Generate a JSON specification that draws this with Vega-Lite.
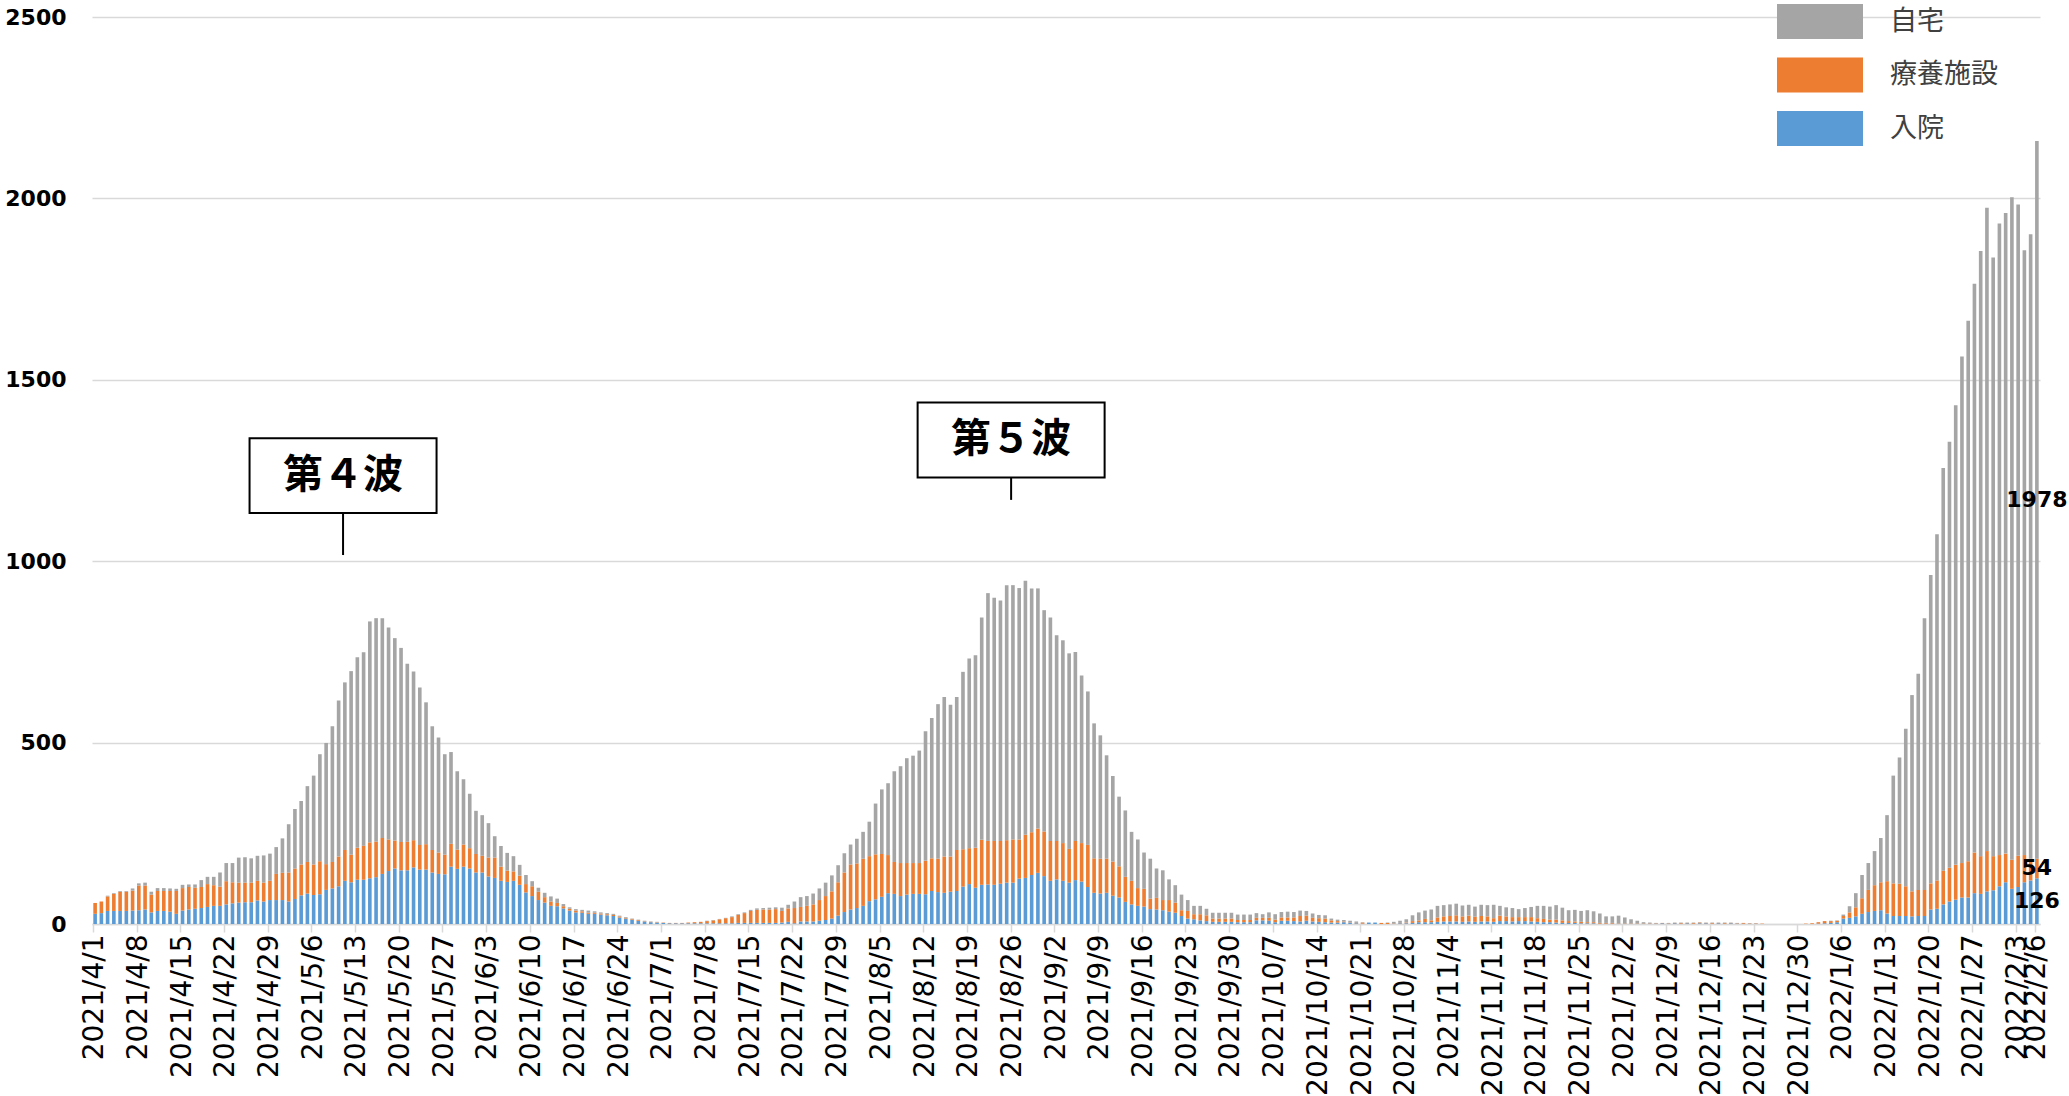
{
"$schema":"https://vega.github.io/schema/vega-lite/v6.json",
"width":1948,"height":907,
"autosize":{"type":"none"},
"padding":{"left":92,"top":17,"right":29,"bottom":172},
"background":"white",
"config":{"view":{"stroke":null},"font":"DejaVu Sans",
"axisX":{"bandPosition":0,"labelAngle":-90,"labelFont":"DejaVu Sans","labelFontSize":28,"labelColor":"#000000",
"tickColor":"#D9D9D9","tickSize":8,"tickWidth":1.5,"domainColor":"#D9D9D9","domainWidth":1.5,
"labelPadding":2,"labelOverlap":false,"labelBound":false,"grid":false,"title":null},
"axisY":{"domain":false,"ticks":false,"grid":true,"gridColor":"#D9D9D9","gridWidth":1.3,"format":"d",
"labelFont":"DejaVu Sans","labelFontWeight":"bold","labelFontSize":22,"labelColor":"#000000","labelPadding":26,"title":null}
},
"datasets":{
"main":[
{"d":"2021/4/1","入院":28,"療養施設":30,"自宅":0},
{"d":"2021/4/2","入院":30,"療養施設":32,"自宅":0},
{"d":"2021/4/3","入院":36,"療養施設":40,"自宅":2},
{"d":"2021/4/4","入院":36,"療養施設":47,"自宅":2},
{"d":"2021/4/5","入院":36,"療養施設":53,"自宅":2},
{"d":"2021/4/6","入院":36,"療養施設":53,"自宅":2},
{"d":"2021/4/7","入院":37,"療養施設":55,"自宅":6},
{"d":"2021/4/8","入院":38,"療養施設":68,"自宅":6},
{"d":"2021/4/9","入院":40,"療養施設":66,"自宅":8},
{"d":"2021/4/10","入院":32,"療養施設":49,"自宅":8},
{"d":"2021/4/11","入院":36,"療養施設":55,"自宅":8},
{"d":"2021/4/12","入院":36,"療養施設":55,"自宅":8},
{"d":"2021/4/13","入院":34,"療養施設":57,"自宅":7},
{"d":"2021/4/14","入院":28,"療養施設":63,"自宅":6},
{"d":"2021/4/15","入院":37,"療養施設":62,"自宅":9},
{"d":"2021/4/16","入院":40,"療養施設":62,"自宅":7},
{"d":"2021/4/17","入院":42,"療養施設":58,"自宅":9},
{"d":"2021/4/18","入院":44,"療養施設":58,"自宅":19},
{"d":"2021/4/19","入院":47,"療養施設":63,"自宅":20},
{"d":"2021/4/20","入院":50,"療養施設":57,"自宅":23},
{"d":"2021/4/21","入院":50,"療養施設":53,"自宅":39},
{"d":"2021/4/22","入院":54,"療養施設":64,"自宅":50},
{"d":"2021/4/23","入院":57,"療養施設":58,"自宅":53},
{"d":"2021/4/24","入院":59,"療養施設":55,"自宅":69},
{"d":"2021/4/25","入院":60,"療養施設":54,"自宅":70},
{"d":"2021/4/26","入院":60,"療養施設":54,"自宅":67},
{"d":"2021/4/27","入院":65,"療養施設":54,"自宅":69},
{"d":"2021/4/28","入院":62,"療養施設":52,"自宅":75},
{"d":"2021/4/29","入院":66,"療養施設":53,"自宅":75},
{"d":"2021/4/30","入院":66,"療養施設":72,"自宅":74},
{"d":"2021/5/1","入院":66,"療養施設":75,"自宅":95},
{"d":"2021/5/2","入院":62,"療養施設":80,"自宅":133},
{"d":"2021/5/3","入院":69,"療養施設":84,"自宅":164},
{"d":"2021/5/4","入院":79,"療養施設":85,"自宅":175},
{"d":"2021/5/5","入院":84,"療養施設":87,"自宅":209},
{"d":"2021/5/6","入院":80,"療養施設":84,"自宅":245},
{"d":"2021/5/7","入院":82,"療養施設":91,"自宅":295},
{"d":"2021/5/8","入院":94,"療養施設":71,"自宅":334},
{"d":"2021/5/9","入院":98,"療養施設":73,"自宅":374},
{"d":"2021/5/10","入院":104,"療養施設":82,"自宅":430},
{"d":"2021/5/11","入院":119,"療養施設":85,"自宅":462},
{"d":"2021/5/12","入院":115,"療養施設":76,"自宅":506},
{"d":"2021/5/13","入院":122,"療養施設":88,"自宅":525},
{"d":"2021/5/14","入院":122,"療養施設":94,"自宅":533},
{"d":"2021/5/15","入院":126,"療養施設":99,"自宅":609},
{"d":"2021/5/16","入院":129,"療養施設":98,"自宅":616},
{"d":"2021/5/17","入院":138,"療養施設":99,"自宅":606},
{"d":"2021/5/18","入院":146,"療養施設":87,"自宅":584},
{"d":"2021/5/19","入院":153,"療養施設":77,"自宅":558},
{"d":"2021/5/20","入院":148,"療養施設":78,"自宅":535},
{"d":"2021/5/21","入院":148,"療養施設":79,"自宅":490},
{"d":"2021/5/22","入院":156,"療養施設":75,"自宅":465},
{"d":"2021/5/23","入院":150,"療養施設":68,"自宅":434},
{"d":"2021/5/24","入院":150,"療養施設":70,"自宅":391},
{"d":"2021/5/25","入院":142,"療養施設":62,"自宅":341},
{"d":"2021/5/26","入院":138,"療養施設":59,"自宅":317},
{"d":"2021/5/27","入院":137,"療養施設":54,"自宅":277},
{"d":"2021/5/28","入院":158,"療養施設":63,"自宅":253},
{"d":"2021/5/29","入院":152,"療養施設":53,"自宅":216},
{"d":"2021/5/30","入院":158,"療養施設":61,"自宅":180},
{"d":"2021/5/31","入院":153,"療養施設":56,"自宅":150},
{"d":"2021/6/1","入院":142,"療養施設":51,"自宅":119},
{"d":"2021/6/2","入院":142,"療養施設":46,"自宅":112},
{"d":"2021/6/3","入院":131,"療養施設":52,"自宅":95},
{"d":"2021/6/4","入院":127,"療養施設":56,"自宅":59},
{"d":"2021/6/5","入院":119,"療養施設":39,"自宅":57},
{"d":"2021/6/6","入院":116,"療養施設":31,"自宅":49},
{"d":"2021/6/7","入院":119,"療養施設":26,"自宅":42},
{"d":"2021/6/8","入院":108,"療養施設":25,"自宅":30},
{"d":"2021/6/9","入院":87,"療養施設":23,"自宅":25},
{"d":"2021/6/10","入院":77,"療養施設":27,"自宅":14},
{"d":"2021/6/11","入院":66,"療養施設":23,"自宅":11},
{"d":"2021/6/12","入院":59,"療養施設":15,"自宅":12},
{"d":"2021/6/13","入院":50,"療養施設":12,"自宅":14},
{"d":"2021/6/14","入院":49,"療養施設":9,"自宅":12},
{"d":"2021/6/15","入院":43,"療養施設":6,"自宅":6},
{"d":"2021/6/16","入院":37,"療養施設":5,"自宅":4},
{"d":"2021/6/17","入院":32,"療養施設":5,"自宅":4},
{"d":"2021/6/18","入院":31,"療養施設":4,"自宅":4},
{"d":"2021/6/19","入院":28,"療養施設":3,"自宅":6},
{"d":"2021/6/20","入院":28,"療養施設":3,"自宅":4},
{"d":"2021/6/21","入院":26,"療養施設":3,"自宅":3},
{"d":"2021/6/22","入院":24,"療養施設":3,"自宅":3},
{"d":"2021/6/23","入院":22,"療養施設":3,"自宅":3},
{"d":"2021/6/24","入院":18,"療養施設":3,"自宅":2},
{"d":"2021/6/25","入院":15,"療養施設":2,"自宅":2},
{"d":"2021/6/26","入院":12,"療養施設":2,"自宅":1},
{"d":"2021/6/27","入院":9,"療養施設":2,"自宅":1},
{"d":"2021/6/28","入院":7,"療養施設":1,"自宅":1},
{"d":"2021/6/29","入院":5,"療養施設":1,"自宅":1},
{"d":"2021/6/30","入院":4,"療養施設":1,"自宅":1},
{"d":"2021/7/1","入院":3,"療養施設":1,"自宅":0},
{"d":"2021/7/2","入院":2,"療養施設":1,"自宅":0},
{"d":"2021/7/3","入院":2,"療養施設":1,"自宅":0},
{"d":"2021/7/4","入院":2,"療養施設":1,"自宅":0},
{"d":"2021/7/5","入院":2,"療養施設":2,"自宅":0},
{"d":"2021/7/6","入院":2,"療養施設":3,"自宅":0},
{"d":"2021/7/7","入院":2,"療養施設":4,"自宅":0},
{"d":"2021/7/8","入院":2,"療養施設":6,"自宅":1},
{"d":"2021/7/9","入院":2,"療養施設":8,"自宅":1},
{"d":"2021/7/10","入院":2,"療養施設":11,"自宅":1},
{"d":"2021/7/11","入院":2,"療養施設":14,"自宅":1},
{"d":"2021/7/12","入院":2,"療養施設":17,"自宅":2},
{"d":"2021/7/13","入院":3,"療養施設":22,"自宅":2},
{"d":"2021/7/14","入院":3,"療養施設":27,"自宅":2},
{"d":"2021/7/15","入院":3,"療養施設":33,"自宅":3},
{"d":"2021/7/16","入院":3,"療養施設":36,"自宅":4},
{"d":"2021/7/17","入院":3,"療養施設":37,"自宅":4},
{"d":"2021/7/18","入院":3,"療養施設":37,"自宅":5},
{"d":"2021/7/19","入院":3,"療養施設":38,"自宅":5},
{"d":"2021/7/20","入院":4,"療養施設":32,"自宅":9},
{"d":"2021/7/21","入院":6,"療養施設":37,"自宅":10},
{"d":"2021/7/22","入院":2,"療養施設":42,"自宅":18},
{"d":"2021/7/23","入院":7,"療養施設":40,"自宅":27},
{"d":"2021/7/24","入院":7,"療養施設":43,"自宅":27},
{"d":"2021/7/25","入院":7,"療養施設":47,"自宅":30},
{"d":"2021/7/26","入院":9,"療養施設":57,"自宅":32},
{"d":"2021/7/27","入院":11,"療養施設":66,"自宅":37},
{"d":"2021/7/28","入院":15,"療養施設":75,"自宅":44},
{"d":"2021/7/29","入院":23,"療養施設":92,"自宅":47},
{"d":"2021/7/30","入院":33,"療養施設":109,"自宅":53},
{"d":"2021/7/31","入院":40,"療養施設":124,"自宅":55},
{"d":"2021/8/1","入院":44,"療養施設":123,"自宅":68},
{"d":"2021/8/2","入院":50,"療養施設":130,"自宅":74},
{"d":"2021/8/3","入院":63,"療養施設":124,"自宅":95},
{"d":"2021/8/4","入院":68,"療養施設":124,"自宅":140},
{"d":"2021/8/5","入院":75,"療養施設":118,"自宅":178},
{"d":"2021/8/6","入院":85,"療養施設":105,"自宅":198},
{"d":"2021/8/7","入院":83,"療養施設":88,"自宅":250},
{"d":"2021/8/8","入院":77,"療養施設":91,"自宅":267},
{"d":"2021/8/9","入院":81,"療養施設":87,"自宅":289},
{"d":"2021/8/10","入院":83,"療養施設":85,"自宅":296},
{"d":"2021/8/11","入院":83,"療養施設":85,"自宅":310},
{"d":"2021/8/12","入院":82,"療養施設":92,"自宅":357},
{"d":"2021/8/13","入院":91,"療養施設":90,"自宅":387},
{"d":"2021/8/14","入院":88,"療養施設":92,"自宅":426},
{"d":"2021/8/15","入院":86,"療養施設":100,"自宅":440},
{"d":"2021/8/16","入院":89,"療養施設":97,"自宅":418},
{"d":"2021/8/17","入院":91,"療養施設":113,"自宅":422},
{"d":"2021/8/18","入院":103,"療養施設":103,"自宅":489},
{"d":"2021/8/19","入院":110,"療養施設":99,"自宅":523},
{"d":"2021/8/20","入院":100,"療養施設":110,"自宅":531},
{"d":"2021/8/21","入院":108,"療養施設":124,"自宅":613},
{"d":"2021/8/22","入院":109,"療養施設":120,"自宅":683},
{"d":"2021/8/23","入院":108,"療養施設":121,"自宅":670},
{"d":"2021/8/24","入院":111,"療養施設":118,"自宅":663},
{"d":"2021/8/25","入院":114,"療養施設":117,"自宅":703},
{"d":"2021/8/26","入院":114,"療養施設":119,"自宅":701},
{"d":"2021/8/27","入院":125,"療養施設":108,"自宅":693},
{"d":"2021/8/28","入院":127,"療養施設":119,"自宅":700},
{"d":"2021/8/29","入院":135,"療養施設":118,"自宅":672},
{"d":"2021/8/30","入院":141,"療養施設":122,"自宅":662},
{"d":"2021/8/31","入院":132,"療養施設":123,"自宅":610},
{"d":"2021/9/1","入院":119,"療養施設":110,"自宅":616},
{"d":"2021/9/2","入院":123,"療養施設":106,"自宅":567},
{"d":"2021/9/3","入院":119,"療養施設":104,"自宅":559},
{"d":"2021/9/4","入院":114,"療養施設":93,"自宅":539},
{"d":"2021/9/5","入院":121,"療養施設":108,"自宅":521},
{"d":"2021/9/6","入院":117,"療養施設":106,"自宅":462},
{"d":"2021/9/7","入院":102,"療養施設":116,"自宅":423},
{"d":"2021/9/8","入院":86,"療養施設":95,"自宅":372},
{"d":"2021/9/9","入院":84,"療養施設":96,"自宅":340},
{"d":"2021/9/10","入院":86,"療養施設":94,"自宅":285},
{"d":"2021/9/11","入院":78,"療養施設":94,"自宅":236},
{"d":"2021/9/12","入院":73,"療養施設":86,"自宅":192},
{"d":"2021/9/13","入院":61,"療養施設":69,"自宅":183},
{"d":"2021/9/14","入院":54,"療養施設":65,"自宅":135},
{"d":"2021/9/15","入院":50,"療養施設":49,"自宅":134},
{"d":"2021/9/16","入院":48,"療養施設":49,"自宅":100},
{"d":"2021/9/17","入院":41,"療養施設":29,"自宅":110},
{"d":"2021/9/18","入院":40,"療養施設":32,"自宅":81},
{"d":"2021/9/19","入院":38,"療養施設":28,"自宅":82},
{"d":"2021/9/20","入院":34,"療養施設":32,"自宅":57},
{"d":"2021/9/21","入院":31,"療養施設":28,"自宅":48},
{"d":"2021/9/22","入院":22,"療養施設":16,"自宅":43},
{"d":"2021/9/23","入院":15,"療養施設":21,"自宅":30},
{"d":"2021/9/24","入院":13,"療養施設":14,"自宅":23},
{"d":"2021/9/25","入院":10,"療養施設":17,"自宅":23},
{"d":"2021/9/26","入院":8,"療養施設":16,"自宅":18},
{"d":"2021/9/27","入院":6,"療養施設":9,"自宅":16},
{"d":"2021/9/28","入院":6,"療養施設":9,"自宅":16},
{"d":"2021/9/29","入院":6,"療養施設":9,"自宅":16},
{"d":"2021/9/30","入院":6,"療養施設":9,"自宅":16},
{"d":"2021/10/1","入院":5,"療養施設":6,"自宅":15},
{"d":"2021/10/2","入院":5,"療養施設":6,"自宅":15},
{"d":"2021/10/3","入院":5,"療養施設":6,"自宅":15},
{"d":"2021/10/4","入院":10,"療養施設":7,"自宅":13},
{"d":"2021/10/5","入院":10,"療養施設":7,"自宅":10},
{"d":"2021/10/6","入院":9,"療養施設":8,"自宅":15},
{"d":"2021/10/7","入院":5,"療養施設":7,"自宅":15},
{"d":"2021/10/8","入院":9,"療養施設":9,"自宅":15},
{"d":"2021/10/9","入院":9,"療養施設":9,"自宅":16},
{"d":"2021/10/10","入院":8,"療養施設":10,"自宅":15},
{"d":"2021/10/11","入院":7,"療養施設":15,"自宅":15},
{"d":"2021/10/12","入院":9,"療養施設":14,"自宅":13},
{"d":"2021/10/13","入院":7,"療養施設":10,"自宅":12},
{"d":"2021/10/14","入院":6,"療養施設":10,"自宅":9},
{"d":"2021/10/15","入院":5,"療養施設":10,"自宅":9},
{"d":"2021/10/16","入院":4,"療養施設":6,"自宅":5},
{"d":"2021/10/17","入院":4,"療養施設":4,"自宅":4},
{"d":"2021/10/18","入院":5,"療養施設":2,"自宅":4},
{"d":"2021/10/19","入院":4,"療養施設":1,"自宅":4},
{"d":"2021/10/20","入院":2,"療養施設":1,"自宅":4},
{"d":"2021/10/21","入院":1,"療養施設":3,"自宅":1},
{"d":"2021/10/22","入院":4,"療養施設":0,"自宅":0},
{"d":"2021/10/23","入院":4,"療養施設":0,"自宅":0},
{"d":"2021/10/24","入院":0,"療養施設":3,"自宅":0},
{"d":"2021/10/25","入院":0,"療養施設":3,"自宅":1},
{"d":"2021/10/26","入院":1,"療養施設":1,"自宅":4},
{"d":"2021/10/27","入院":2,"療養施設":1,"自宅":6},
{"d":"2021/10/28","入院":2,"療養施設":2,"自宅":9},
{"d":"2021/10/29","入院":3,"療養施設":5,"自宅":16},
{"d":"2021/10/30","入院":5,"療養施設":5,"自宅":22},
{"d":"2021/10/31","入院":5,"療養施設":9,"自宅":23},
{"d":"2021/11/1","入院":5,"療養施設":5,"自宅":30},
{"d":"2021/11/2","入院":6,"療養施設":12,"自宅":32},
{"d":"2021/11/3","入院":7,"療養施設":14,"自宅":31},
{"d":"2021/11/4","入院":7,"療養施設":15,"自宅":32},
{"d":"2021/11/5","入院":7,"療養施設":17,"自宅":32},
{"d":"2021/11/6","入院":6,"療養施設":15,"自宅":30},
{"d":"2021/11/7","入院":7,"療養施設":16,"自宅":30},
{"d":"2021/11/8","入院":6,"療養施設":14,"自宅":28},
{"d":"2021/11/9","入院":7,"療養施設":15,"自宅":31},
{"d":"2021/11/10","入院":7,"療養施設":14,"自宅":31},
{"d":"2021/11/11","入院":6,"療養施設":10,"自宅":37},
{"d":"2021/11/12","入院":8,"療養施設":15,"自宅":27},
{"d":"2021/11/13","入院":8,"療養施設":13,"自宅":25},
{"d":"2021/11/14","入院":7,"療養施設":12,"自宅":25},
{"d":"2021/11/15","入院":8,"療養施設":11,"自宅":22},
{"d":"2021/11/16","入院":8,"療養施設":11,"自宅":25},
{"d":"2021/11/17","入院":7,"療養施設":12,"自宅":28},
{"d":"2021/11/18","入院":6,"療養施設":10,"自宅":34},
{"d":"2021/11/19","入院":5,"療養施設":9,"自宅":36},
{"d":"2021/11/20","入院":5,"療養施設":7,"自宅":36},
{"d":"2021/11/21","入院":4,"療養施設":8,"自宅":40},
{"d":"2021/11/22","入院":3,"療養施設":7,"自宅":35},
{"d":"2021/11/23","入院":3,"療養施設":5,"自宅":30},
{"d":"2021/11/24","入院":3,"療養施設":4,"自宅":32},
{"d":"2021/11/25","入院":2,"療養施設":4,"自宅":30},
{"d":"2021/11/26","入院":2,"療養施設":3,"自宅":33},
{"d":"2021/11/27","入院":2,"療養施設":3,"自宅":30},
{"d":"2021/11/28","入院":1,"療養施設":2,"自宅":26},
{"d":"2021/11/29","入院":1,"療養施設":2,"自宅":18},
{"d":"2021/11/30","入院":1,"療養施設":2,"自宅":18},
{"d":"2021/12/1","入院":1,"療養施設":1,"自宅":21},
{"d":"2021/12/2","入院":1,"療養施設":1,"自宅":16},
{"d":"2021/12/3","入院":1,"療養施設":1,"自宅":11},
{"d":"2021/12/4","入院":1,"療養施設":1,"自宅":7},
{"d":"2021/12/5","入院":1,"療養施設":1,"自宅":3},
{"d":"2021/12/6","入院":1,"療養施設":1,"自宅":2},
{"d":"2021/12/7","入院":1,"療養施設":1,"自宅":1},
{"d":"2021/12/8","入院":2,"療養施設":1,"自宅":0},
{"d":"2021/12/9","入院":1,"療養施設":1,"自宅":1},
{"d":"2021/12/10","入院":2,"療養施設":1,"自宅":1},
{"d":"2021/12/11","入院":1,"療養施設":2,"自宅":1},
{"d":"2021/12/12","入院":2,"療養施設":1,"自宅":1},
{"d":"2021/12/13","入院":1,"療養施設":2,"自宅":1},
{"d":"2021/12/14","入院":2,"療養施設":2,"自宅":1},
{"d":"2021/12/15","入院":2,"療養施設":1,"自宅":1},
{"d":"2021/12/16","入院":1,"療養施設":2,"自宅":1},
{"d":"2021/12/17","入院":2,"療養施設":1,"自宅":1},
{"d":"2021/12/18","入院":1,"療養施設":2,"自宅":1},
{"d":"2021/12/19","入院":2,"療養施設":1,"自宅":1},
{"d":"2021/12/20","入院":1,"療養施設":1,"自宅":1},
{"d":"2021/12/21","入院":1,"療養施設":2,"自宅":0},
{"d":"2021/12/22","入院":1,"療養施設":1,"自宅":0},
{"d":"2021/12/23","入院":1,"療養施設":1,"自宅":0},
{"d":"2021/12/24","入院":0,"療養施設":1,"自宅":0},
{"d":"2021/12/25","入院":0,"療養施設":0,"自宅":0},
{"d":"2021/12/26","入院":0,"療養施設":0,"自宅":0},
{"d":"2021/12/27","入院":0,"療養施設":0,"自宅":0},
{"d":"2021/12/28","入院":0,"療養施設":0,"自宅":0},
{"d":"2021/12/29","入院":0,"療養施設":0,"自宅":0},
{"d":"2021/12/30","入院":0,"療養施設":0,"自宅":0},
{"d":"2021/12/31","入院":0,"療養施設":1,"自宅":0},
{"d":"2022/1/1","入院":0,"療養施設":2,"自宅":0},
{"d":"2022/1/2","入院":1,"療養施設":4,"自宅":0},
{"d":"2022/1/3","入院":2,"療養施設":6,"自宅":0},
{"d":"2022/1/4","入院":3,"療養施設":5,"自宅":1},
{"d":"2022/1/5","入院":5,"療養施設":4,"自宅":1},
{"d":"2022/1/6","入院":15,"療養施設":7,"自宅":4},
{"d":"2022/1/7","入院":17,"療養施設":15,"自宅":17},
{"d":"2022/1/8","入院":21,"療養施設":25,"自宅":39},
{"d":"2022/1/9","入院":28,"療養施設":43,"自宅":64},
{"d":"2022/1/10","入院":33,"療養施設":61,"自宅":74},
{"d":"2022/1/11","入院":36,"療養施設":71,"自宅":94},
{"d":"2022/1/12","入院":38,"療養施設":77,"自宅":122},
{"d":"2022/1/13","入院":29,"療養施設":89,"自宅":182},
{"d":"2022/1/14","入院":22,"療養施設":90,"自宅":297},
{"d":"2022/1/15","入院":22,"療養施設":89,"自宅":348},
{"d":"2022/1/16","入院":22,"療養施設":82,"自宅":434},
{"d":"2022/1/17","入院":21,"療養施設":69,"自宅":541},
{"d":"2022/1/18","入院":22,"療養施設":72,"自宅":596},
{"d":"2022/1/19","入院":22,"療養施設":72,"自宅":749},
{"d":"2022/1/20","入院":40,"療養施設":72,"自宅":850},
{"d":"2022/1/21","入院":42,"療養施設":78,"自宅":954},
{"d":"2022/1/22","入院":54,"療養施設":93,"自宅":1110},
{"d":"2022/1/23","入院":62,"療養施設":93,"自宅":1174},
{"d":"2022/1/24","入院":67,"療養施設":96,"自宅":1267},
{"d":"2022/1/25","入院":73,"療養施設":95,"自宅":1396},
{"d":"2022/1/26","入院":73,"療養施設":100,"自宅":1490},
{"d":"2022/1/27","入院":85,"療養施設":112,"自宅":1568},
{"d":"2022/1/28","入院":83,"療養施設":104,"自宅":1668},
{"d":"2022/1/29","入院":90,"療養施設":111,"自宅":1773},
{"d":"2022/1/30","入院":93,"療養施設":94,"自宅":1650},
{"d":"2022/1/31","入院":104,"療養施設":86,"自宅":1741},
{"d":"2022/2/1","入院":115,"療養施設":79,"自宅":1766},
{"d":"2022/2/2","入院":97,"療養施設":80,"自宅":1826},
{"d":"2022/2/3","入院":102,"療養施設":86,"自宅":1795},
{"d":"2022/2/4","入院":115,"療養施設":75,"自宅":1667},
{"d":"2022/2/5","入院":120,"療養施設":60,"自宅":1721},
{"d":"2022/2/6","入院":126,"療養施設":54,"自宅":1978}
],
"waves":[
{"d":"2021/5/11","label":"第４波","center":1236,"bottom":1133,"end":1017},
{"d":"2021/8/26","label":"第５波","center":1334,"bottom":1232,"end":1169}
]
},
"layer":[
{
"data":{"name":"main"},
"transform":[{"fold":["入院","療養施設","自宅"],"as":["type","value"]}],
"mark":{"type":"bar"},
"encoding":{
"x":{"field":"d","type":"ordinal","sort":null,"title":null,
"scale":{"paddingInner":0.42,"paddingOuter":0.21},
"axis":{"values":["2021/4/1","2021/4/8","2021/4/15","2021/4/22","2021/4/29","2021/5/6","2021/5/13","2021/5/20","2021/5/27","2021/6/3","2021/6/10","2021/6/17","2021/6/24","2021/7/1","2021/7/8","2021/7/15","2021/7/22","2021/7/29","2021/8/5","2021/8/12","2021/8/19","2021/8/26","2021/9/2","2021/9/9","2021/9/16","2021/9/23","2021/9/30","2021/10/7","2021/10/14","2021/10/21","2021/10/28","2021/11/4","2021/11/11","2021/11/18","2021/11/25","2021/12/2","2021/12/9","2021/12/16","2021/12/23","2021/12/30","2022/1/6","2022/1/13","2022/1/20","2022/1/27","2022/2/3","2022/2/6"]}},
"y":{"field":"value","type":"quantitative","stack":"zero","title":null,
"scale":{"domain":[0,2500],"nice":false},
"axis":{"values":[0,500,1000,1500,2000,2500]}},
"color":{"field":"type","type":"nominal",
"scale":{"domain":["自宅","療養施設","入院"],"range":["#A5A5A5","#ED7D31","#5B9BD5"]},
"legend":{"title":null,"orient":"none","legendX":1685,"legendY":-17,"padding":0,
"symbolType":"M-1,-0.814H3V0.814H-1Z","symbolSize":1849,"symbolStrokeWidth":0,"symbolOpacity":1,
"labelFont":"Noto Sans CJK JP","labelFontSize":27,"labelColor":"#404040","labelOffset":70,"rowPadding":13.5}},
"order":{"field":"type","sort":"ascending"}
}
},
{
"data":{"name":"waves"},
"mark":{"type":"rule","color":"#000000","strokeWidth":2},
"encoding":{
"x":{"field":"d","type":"ordinal","sort":null,"bandPosition":0,"title":null},
"y":{"field":"bottom","type":"quantitative","title":null},
"y2":{"field":"end"}
}
},
{
"data":{"name":"waves"},
"mark":{"type":"point","shape":"M-1,-0.4H1V0.4H-1Z","size":34969,"filled":true,"fill":"#FFFFFF","stroke":"#000000","strokeWidth":2,"opacity":1},
"encoding":{
"x":{"field":"d","type":"ordinal","sort":null,"bandPosition":0,"title":null},
"y":{"field":"center","type":"quantitative","title":null}
}
},
{
"data":{"name":"waves"},
"mark":{"type":"text","font":"Noto Sans CJK JP","fontWeight":"bold","fontSize":40,"color":"#000000","baseline":"middle","align":"center"},
"encoding":{
"x":{"field":"d","type":"ordinal","sort":null,"bandPosition":0,"title":null},
"y":{"field":"center","type":"quantitative","title":null},
"text":{"field":"label"}
}
},
{
"data":{"name":"main"},
"transform":[{"filter":"datum.d === '2022/2/6'"},{"fold":["入院","療養施設","自宅"],"as":["type","value"]}],
"mark":{"type":"text","font":"DejaVu Sans","fontWeight":"bold","fontSize":22,"color":"#000000","baseline":"middle","align":"center"},
"encoding":{
"x":{"field":"d","type":"ordinal","sort":null,"title":null},
"y":{"field":"value","type":"quantitative","stack":"zero","bandPosition":0.5,"title":null},
"detail":{"field":"type"},
"order":{"field":"type","sort":"ascending"},
"text":{"field":"value","type":"quantitative"}
}
}
]
}
